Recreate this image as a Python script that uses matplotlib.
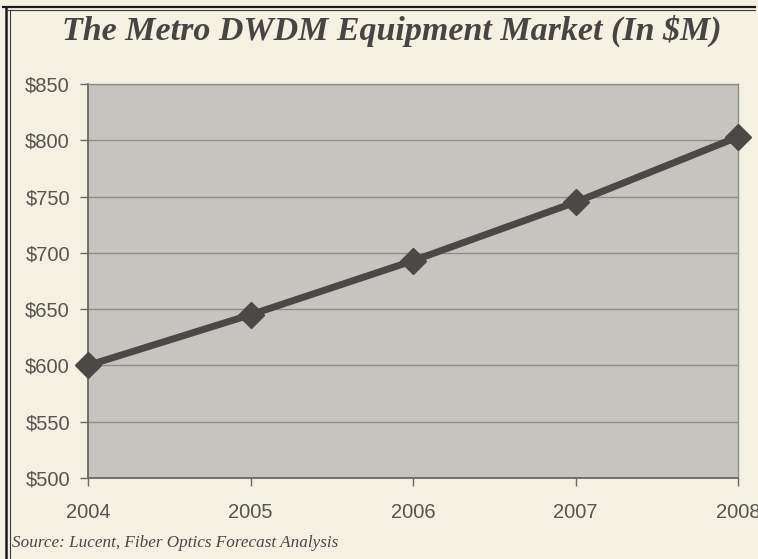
import matplotlib
matplotlib.use("Agg")
import matplotlib.pyplot as plt
from matplotlib.lines import Line2D

years = [2004, 2005, 2006, 2007, 2008]
market_musd = [600, 645, 693, 745, 803]
y_ticks = [500, 550, 600, 650, 700, 750, 800, 850]
y_tick_labels = ["$500", "$550", "$600", "$650", "$700", "$750", "$800", "$850"]
x_tick_labels = ["2004", "2005", "2006", "2007", "2008"]

paper = "#f4f0e2"
panel = "#c6c4be"
ink = "#4b4947"
grid = "#8e8c87"
label_col = "#57554f"

fig = plt.figure(figsize=(7.58, 5.59), dpi=100, facecolor=paper)
ax = fig.add_axes([88 / 758, 1 - 478 / 559, 650 / 758, 394 / 559])
ax.set_facecolor(panel)

ax.plot(years, market_musd, color=ink, lw=5, marker="D", markersize=13,
        markerfacecolor=ink, markeredgecolor=ink, clip_on=False, zorder=3,
        solid_joinstyle="miter")

ax.set_xlim(2004, 2008)
ax.set_ylim(500, 850)
ax.set_yticks(y_ticks)
ax.set_yticklabels(y_tick_labels)
ax.set_xticks(years)
ax.set_xticklabels(x_tick_labels)

ax.yaxis.grid(True, color=grid, lw=1.0)
ax.set_axisbelow(True)

for side in ("top", "right"):
    ax.spines[side].set_color(grid)
    ax.spines[side].set_linewidth(1.0)
for side in ("left", "bottom"):
    ax.spines[side].set_color("#6a6864")
    ax.spines[side].set_linewidth(1.3)

ax.tick_params(axis="y", length=6, width=1, color="#6a6864", pad=7,
               labelsize=14.5, labelcolor=label_col)
ax.tick_params(axis="x", length=6, width=1, color="#6a6864", pad=12,
               labelsize=14.5, labelcolor=label_col)
for t in ax.get_xticklabels() + ax.get_yticklabels():
    t.set_fontfamily("Liberation Sans")

fig.text(392 / 758, 1 - 31 / 559, "The Metro DWDM Equipment Market (In $M)",
         ha="center", va="center", family="Liberation Serif",
         style="italic", weight="bold", fontsize=24.5, color="#474543")

fig.text(12 / 758, 1 - 543 / 559, "Source: Lucent, Fiber Optics Forecast Analysis",
         ha="left", va="center", family="Liberation Serif", style="italic",
         fontsize=12.3, color="#4a4845")

# page frame: double rule along the top and left edge
fig.add_artist(Line2D([3 / 758, 755 / 758], [1 - 7 / 559, 1 - 7 / 559],
                      transform=fig.transFigure, color="#1a1a1a", lw=1.6))
fig.add_artist(Line2D([8 / 758, 755 / 758], [1 - 10 / 559, 1 - 10 / 559],
                      transform=fig.transFigure, color="#3a3a3a", lw=0.8))
fig.add_artist(Line2D([6 / 758, 6 / 758], [0, 1 - 7 / 559],
                      transform=fig.transFigure, color="#1a1a1a", lw=1.8))
fig.add_artist(Line2D([10 / 758, 10 / 758], [0, 1 - 10 / 559],
                      transform=fig.transFigure, color="#3a3a3a", lw=0.8))

fig.savefig("out.png", dpi=100, facecolor=paper)
